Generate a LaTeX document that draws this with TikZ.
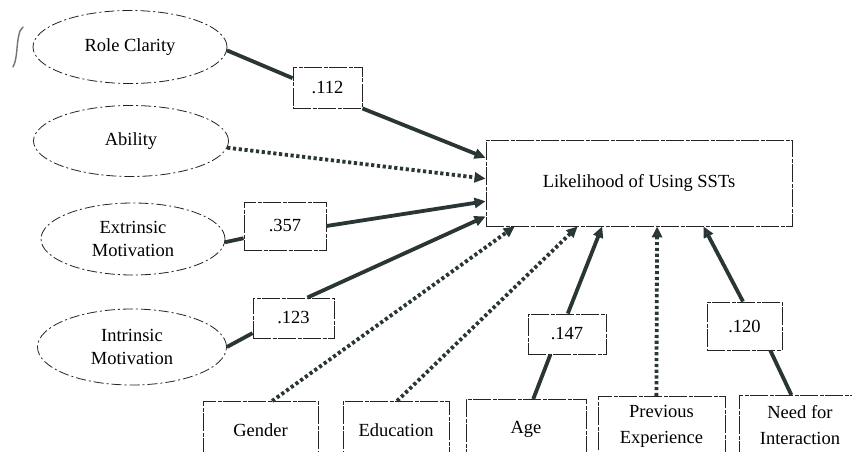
\documentclass[tikz,border=0pt]{standalone}
\usepackage{fontspec}
\setmainfont{Liberation Serif}
\usetikzlibrary{shapes.geometric,arrows.meta,calc}
\definecolor{linec}{RGB}{42,54,54}
\definecolor{tipc}{RGB}{58,76,76}
\definecolor{edgec}{RGB}{35,35,35}
\tikzset{
  ell/.style={ellipse, draw=edgec, line width=0.8pt, dash pattern=on 10pt off 3pt on 2pt off 3pt, align=center, inner sep=0pt, font=\fontsize{18.5}{23}\selectfont},
  lbox/.style={rectangle, draw=edgec, line width=0.9pt, dash pattern=on 18pt off 1.5pt on 4pt off 1.5pt, align=center, inner sep=0pt, font=\fontsize{18.5}{26}\selectfont},
  solidc/.style={draw=linec, line width=3.8pt},
  solida/.style={solidc, -{Triangle[length=11pt,width=10pt,fill=tipc]}},
  dota/.style={draw=linec, line width=3.8pt, dash pattern=on 3.2pt off 2.6pt, -{Triangle[length=11pt,width=10pt,fill=tipc]}},
}
\begin{document}
\begin{tikzpicture}[x=1pt,y=-1pt]
\clip (0,0) rectangle (852,452);
\fill[white] (0,0) rectangle (852,452);
% stray pen mark
\draw[black!55, line width=1.4pt, line cap=round] (23,27) -- (20,31) .. controls (16,42) and (18,58) .. (13,67);
% ellipses
\node[ell, minimum width=194pt, minimum height=73pt] (rc) at (130,47) {Role Clarity};
\node[ell, minimum width=195pt, minimum height=71pt] (ab) at (131,141) {Ability};
\node[ell, minimum width=184pt, minimum height=72pt] (ex) at (133,239) {Extrinsic\\Motivation};
\node[ell, minimum width=189pt, minimum height=76pt] (in) at (132,347) {Intrinsic\\Motivation};
% outcome
\node[lbox, minimum width=306pt, minimum height=86pt] (like) at (639,183) {Likelihood of Using SSTs};
% coefficient boxes
\node[lbox, minimum width=69pt, minimum height=41pt] (c112) at (327.5,87.5) {.112};
\node[lbox, minimum width=82pt, minimum height=48pt] (c357) at (285,226) {.357};
\node[lbox, minimum width=81pt, minimum height=40pt] (c123) at (293.5,318) {.123};
\node[lbox, minimum width=78pt, minimum height=40pt] (c147) at (567,334) {.147};
\node[lbox, minimum width=75pt, minimum height=48pt] (c120) at (744.5,326) {.120};
% bottom boxes
\node[lbox, anchor=north, minimum width=115pt, minimum height=58pt] (gen) at (260.5,401) {Gender};
\node[lbox, anchor=north, minimum width=106pt, minimum height=58pt] (edu) at (396,401) {Education};
\node[lbox, anchor=north, minimum width=120pt, minimum height=60pt] (age) at (526,399) {Age};
\node[lbox, anchor=north, minimum width=127pt, minimum height=60pt] (prev) at (661.5,396) {Previous\\Experience};
\node[lbox, anchor=north, minimum width=122pt, minimum height=60pt] (need) at (800,395) {Need for\\Interaction};
% connectors: left side
\draw[solidc] (rc.-2) -- (c112.165);
\draw[solida] (c112.south east) -- ($(like.north west)!0.21!(like.south west)$);
\draw[dota] (ab.-4) -- ($(like.north west)!0.45!(like.south west)$);
\draw[solidc] (ex.-2) -- ($(c357.north west)!0.75!(c357.south west)$);
\draw[solida] (c357.east) -- ($(like.north west)!0.71!(like.south west)$);
\draw[solidc] (in.east) -- ($(c123.north west)!0.87!(c123.south west)$);
\draw[solida] ($(c123.north west)!0.67!(c123.north east)$) -- ($(like.north west)!0.885!(like.south west)$);
% connectors: bottom
\draw[dota] ($(gen.north west)!0.6!(gen.north east)$) -- ($(like.south west)!0.095!(like.south east)$);
\draw[dota] ($(edu.north west)!0.51!(edu.north east)$) -- ($(like.south west)!0.30!(like.south east)$);
\draw[solidc] ($(age.north west)!0.56!(age.north east)$) -- ($(c147.south west)!0.29!(c147.south east)$);
\draw[solida] ($(c147.north west)!0.51!(c147.north east)$) -- ($(like.south west)!0.38!(like.south east)$);
\draw[dota] ($(prev.north west)!0.46!(prev.north east)$) -- ($(like.south west)!0.559!(like.south east)$);
\draw[solidc] ($(need.north west)!0.43!(need.north east)$) -- ($(c120.south west)!0.84!(c120.south east)$);
\draw[solida] ($(c120.north west)!0.48!(c120.north east)$) -- ($(like.south west)!0.71!(like.south east)$);
\end{tikzpicture}
\end{document}
